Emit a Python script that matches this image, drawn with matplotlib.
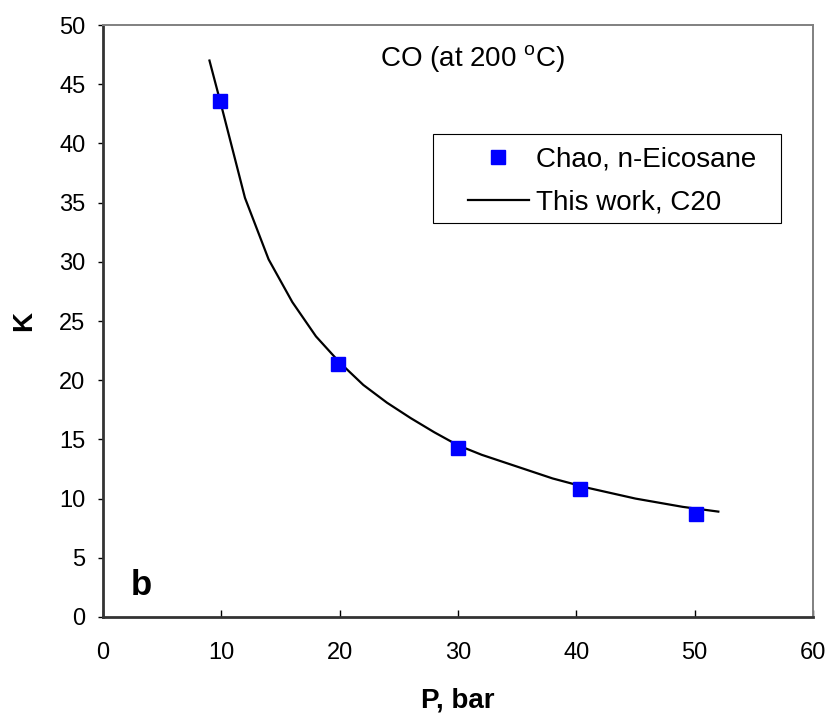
import matplotlib
matplotlib.use("Agg")
import matplotlib.pyplot as plt
from matplotlib.patches import Rectangle

plt.rcParams["font.family"] = ["Liberation Sans", "DejaVu Sans"]
plt.rcParams["mathtext.fontset"] = "custom"
plt.rcParams["mathtext.rm"] = "Liberation Sans"

# Chao data for CO in n-eicosane at 200 C
p_exp = [9.9, 19.9, 30.0, 40.3, 50.1]
k_exp = [43.6, 21.4, 14.3, 10.8, 8.7]

# model curve (C20)
p_model = [9, 10, 12, 14, 16, 18, 20, 22, 24, 26, 28, 30, 32, 35, 38, 41, 45, 49, 52]
k_model = [47.0, 43.2, 35.4, 30.2, 26.6, 23.7, 21.5, 19.6, 18.1, 16.8, 15.6, 14.5,
           13.7, 12.7, 11.7, 10.9, 10.0, 9.3, 8.9]

x_ticks = [0, 10, 20, 30, 40, 50, 60]
y_ticks = [0, 5, 10, 15, 20, 25, 30, 35, 40, 45, 50]

fig = plt.figure(figsize=(8.29, 7.17), dpi=100)
ax = fig.add_axes([0.1242, 0.1395, 0.8565, 0.8256])

ax.plot(p_model, k_model, color="black", lw=1.6, label="This work, C20", zorder=2)
ax.plot(p_exp, k_exp, ls="none", marker="s", ms=9.5, color="#0000ff",
        markeredgecolor="#0000ff", label="Chao, n-Eicosane", zorder=3)

ax.set_xlim(0, 60)
ax.set_ylim(0, 50)
ax.set_xticks(x_ticks)
ax.set_yticks(y_ticks)

for side in ["left", "bottom"]:
    ax.spines[side].set_color("#333333")
    ax.spines[side].set_linewidth(2.0)
for side in ["top", "right"]:
    ax.spines[side].set_color("#808080")
    ax.spines[side].set_linewidth(1.4)

ax.tick_params(axis="x", direction="in", length=5, width=1, pad=18, labelsize=17)
ax.tick_params(axis="y", direction="out", length=3.5, width=1, pad=9, labelsize=17)

ax.set_xlabel("P, bar", fontsize=20, fontweight="bold", labelpad=17)
ax.set_ylabel("K", fontsize=20, fontweight="bold", labelpad=16)

ax.text(0.521, 0.929, r"CO (at 200 $^{\rm o}$C)", transform=ax.transAxes,
        ha="center", va="baseline", fontsize=20)
ax.text(0.039, 0.037, "b", transform=ax.transAxes, ha="left", va="baseline",
        fontsize=25, fontweight="bold")

handles, labels = ax.get_legend_handles_labels()
leg = ax.legend(handles[::-1], labels[::-1], loc="center", bbox_to_anchor=(0.717, 0.736),
                frameon=False, fontsize=20, borderpad=0, handlelength=2.2,
                handletextpad=0.25, labelspacing=0.62, markerscale=1.0)
ax.add_patch(Rectangle((0.465, 0.666), 0.49, 0.15, transform=ax.transAxes,
                       fill=False, edgecolor="black", lw=0.8, zorder=4))

fig.savefig("out.png", dpi=100)
